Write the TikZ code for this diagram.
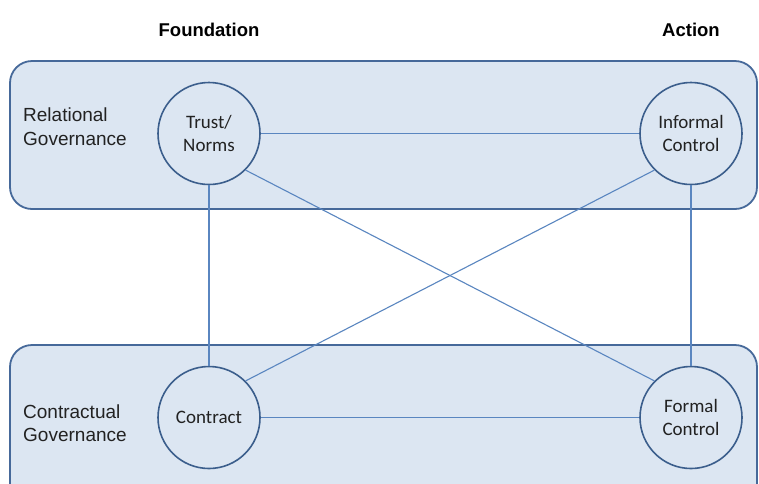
\documentclass[tikz,border=0pt]{standalone}
\usepackage{fontspec}
\setmainfont{Liberation Sans}
\newfontfamily\calib{Carlito}
\definecolor{fillc}{HTML}{DCE6F2}
\definecolor{boxc}{HTML}{46699A}
\definecolor{circc}{HTML}{3B5E8C}
\definecolor{linkc}{HTML}{5A86C0}
\definecolor{txt}{HTML}{222222}
\begin{document}
\begin{tikzpicture}[x=1pt,y=-1pt,
  grp/.style={draw=boxc, fill=fillc, line width=1.8pt, rounded corners=22pt},
  circ/.style={circle, draw=circc, fill=fillc, line width=1.6pt, minimum size=102pt, inner sep=0pt, align=center, font=\calib\fontsize{19}{23.5}\selectfont, text=txt},
  link/.style={draw=linkc, line width=1.1pt},
  lbl/.style={anchor=west, align=left, font=\fontsize{19}{23.5}\selectfont, text=txt, inner sep=0pt},
  hdr/.style={font=\bfseries\fontsize{18.5}{22}\selectfont, text=black, inner sep=0pt}]
\useasboundingbox (0,0) rectangle (759,483);
\clip (0,0) rectangle (759,483);
\fill[white] (0,0) rectangle (759,483);
\draw[grp] (10,61) rectangle (757,209);
\draw[grp] (10,345) rectangle (757,520);
\node[hdr] (hfound) at (209,30) {Foundation};
\node[hdr] (haction) at (691,30) {Action};
\node[lbl] (lrel) at (23,126.5) {Relational\\Governance};
\node[lbl] (lcon) at (23,423) {Contractual\\Governance};
\node[circ] (trust) at (209,133.5) {Trust/\\Norms};
\node[circ] (informal) at (691,133.5) {Informal\\Control};
\node[circ] (contract) at (209,417.5) {Contract};
\node[circ] (formal) at (691,417.5) {Formal\\Control};
\draw[link] (trust) -- (informal);
\draw[link] (trust) -- (contract);
\draw[link] (informal) -- (formal);
\draw[link] (contract) -- (formal);
\draw[link] (trust.-45) -- (formal.135);
\draw[link] (informal.-135) -- (contract.45);
\end{tikzpicture}
\end{document}
